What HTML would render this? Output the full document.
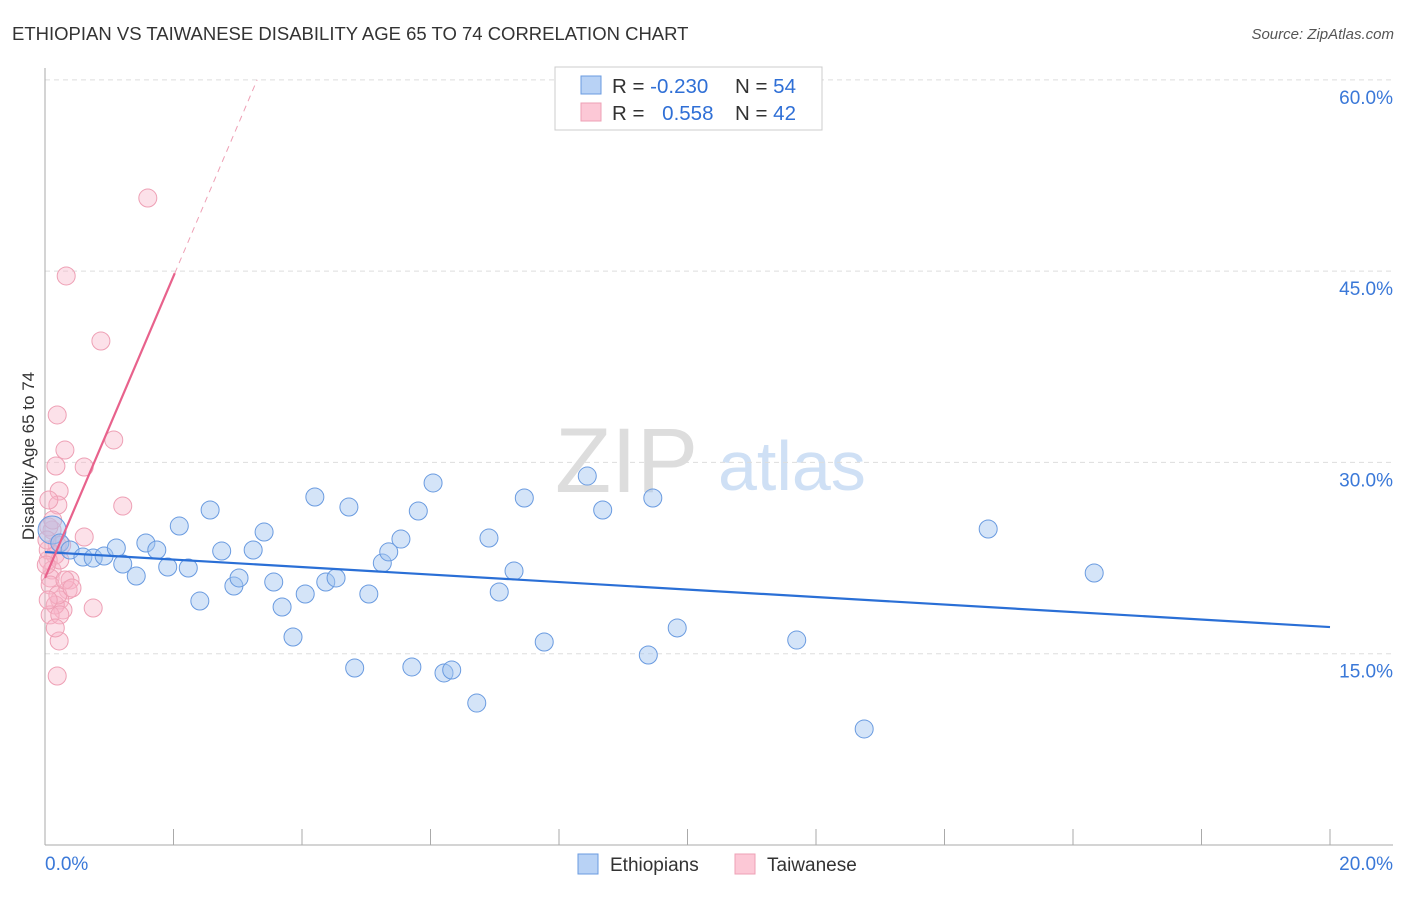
<!DOCTYPE html>
<html><head><meta charset="utf-8"><style>
body{margin:0;background:#fff;font-family:"Liberation Sans",sans-serif}
svg text{font-family:"Liberation Sans",sans-serif}
</style></head><body>
<svg id="c" width="1406" height="892">
<text x="12" y="40" font-size="18.5" fill="#333">ETHIOPIAN VS TAIWANESE DISABILITY AGE 65 TO 74 CORRELATION CHART</text>
<text x="1394" y="39" font-size="15" fill="#555" font-style="italic" text-anchor="end">Source: ZipAtlas.com</text>
<text x="34" y="456" font-size="17" fill="#333" text-anchor="middle" transform="rotate(-90 34 456)">Disability Age 65 to 74</text>
<text x="555" y="492" font-size="92" fill="#ddd" font-family="Liberation Serif">ZIP</text>
<text x="718" y="490" font-size="70" fill="#cfe0f5">atlas</text>
<g id="grid"></g><g id="marks"></g>
<g>
<rect x="555" y="67" width="267" height="63" fill="#fff" stroke="#ccc"/>
<rect x="581" y="76" width="20" height="18" fill="#b8d2f5" stroke="#6a9be0"/>
<rect x="581" y="103" width="20" height="18" fill="#fcc8d6" stroke="#eea0b5"/>
<text x="612" y="93" font-size="20.5" fill="#333">R = <tspan fill="#2f6fd6">-0.230</tspan></text>
<text x="735" y="93" font-size="20.5" fill="#333">N = <tspan fill="#2f6fd6">54</tspan></text>
<text x="612" y="120" font-size="20.5" fill="#333">R = <tspan fill="#2f6fd6" dx="12">0.558</tspan></text>
<text x="735" y="120" font-size="20.5" fill="#333">N = <tspan fill="#2f6fd6">42</tspan></text>
</g>
<g>
<rect x="578" y="854" width="20" height="20" fill="#b8d2f5" stroke="#6a9be0"/>
<text x="610" y="871" font-size="19" fill="#333">Ethiopians</text>
<rect x="735" y="854" width="20" height="20" fill="#fcc8d6" stroke="#eea0b5"/>
<text x="767" y="871" font-size="19" fill="#333">Taiwanese</text>
</g>
</svg>
<script>
const yTicks=[15,30,45,60];
const yTickLabels=["15.0%","30.0%","45.0%","60.0%"];
const xTickLabels=["0.0%","20.0%"];
const ethX=[.11,.23,.39,.59,.75,.92,1.11,1.21,1.42,1.57,1.74,1.91,2.09,2.23,2.41,2.57,2.75,2.94,3.02,3.24,3.41,3.56,3.69,3.86,4.05,4.20,4.37,4.53,4.73,4.82,5.04,5.25,5.35,5.54,5.71,5.81,6.04,6.21,6.33,6.72,6.91,7.07,7.30,7.46,7.77,8.44,8.68,9.39,9.46,9.84,11.70,12.75,14.68,16.33];
const ethY=[24.70,23.68,23.13,22.58,22.50,22.66,23.29,22.03,21.09,23.68,23.13,21.80,25.01,21.72,19.13,26.27,23.05,20.31,20.94,23.13,24.54,20.62,18.66,16.31,19.68,27.29,20.62,20.94,26.50,13.88,19.68,22.11,22.98,23.99,13.96,26.19,28.39,13.49,13.72,11.13,24.07,19.84,21.49,27.21,15.92,28.93,26.27,14.90,27.21,17.02,16.07,9.10,24.78,21.33];
const taiX=[1.60,.33,.87,.19,1.07,.31,.17,.61,.22,1.21,.20,.06,.61,.11,.19,.16,.05,.11,.23,.08,.39,.36,.23,.28,.75,.16,.08,.23,.22,.19,.06,.05,.26,.08,.03,.12,.02,.20,.31,.05,.16,.42];
const taiY=[50.73,44.62,39.52,33.72,31.76,30.97,29.72,29.64,27.76,26.58,26.66,27.05,24.15,24.70,23.52,22.74,22.35,21.56,22.35,20.94,20.78,20.00,19.21,18.43,18.58,18.82,18.04,18.04,16.00,13.25,24.94,23.13,23.52,20.39,23.92,25.48,21.96,19.60,20.78,19.21,17.02,20.15];
const ethLine=[22.97,17.09];
const taiLine=[20.94,11.83];
const NS="http://www.w3.org/2000/svg";
const X=v=>45+v*64.25, Y=v=>845-v*12.753;
function mk(t,a,p){const e=document.createElementNS(NS,t);for(const k in a)e.setAttribute(k,a[k]);p.appendChild(e);return e;}
const g=document.getElementById('grid'),m=document.getElementById('marks');
yTicks.forEach((t,i)=>{
 const l=mk('line',{x1:45,x2:1393,y1:Y(t),y2:Y(t),stroke:'#ddd','stroke-dasharray':'5,4'},g);
 
 
 const tx=mk('text',{x:1393,y:Y(t)+24,'font-size':19,fill:'#3a78d8','text-anchor':'end'},g);
 tx.textContent=yTickLabels[i];
 
 
});
const ax=mk('line',{x1:45,x2:45,y1:68,y2:845,stroke:'#aaa'},g);


const bx=mk('line',{x1:45,x2:1393,y1:845,y2:845,stroke:'#aaa'},g);


for(let i=1;i<=10;i++){const t=mk('line',{x1:X(i*2),x2:X(i*2),y1:829,y2:845,stroke:'#aaa'},g);
 
 }
[[0,'start',45],[20,'end',1393]].forEach((d,i)=>{const t=mk('text',{x:d[2],y:870,'font-size':19,fill:'#3a78d8','text-anchor':d[1]},g);
 t.textContent=xTickLabels[i];
 
 });
taiX.forEach((x,i)=>{const c=mk('circle',{cx:X(x),cy:Y(taiY[i]),r:9,fill:'rgba(248,180,200,0.4)',stroke:'#eea0b5','stroke-width':1},m);
 
 });
ethX.forEach((x,i)=>{const c=mk('circle',{cx:X(x),cy:Y(ethY[i]),r:i==0?14:9,fill:'rgba(160,195,240,0.45)',stroke:'#6a9be0','stroke-width':1},m);
 
 });
const bl=mk('line',{x1:X(0),y1:Y(ethLine[0]),x2:X(20),y2:Y(ethLine[1]),stroke:'#2a6fd6','stroke-width':2.2},m);


const xs=2.02,xe=(60-taiLine[0])/taiLine[1];
const pl=mk('line',{x1:X(0),y1:Y(taiLine[0]),x2:X(xs),y2:Y(taiLine[0]+taiLine[1]*xs),stroke:'#e8628c','stroke-width':2.2},m);


const pd=mk('line',{x1:X(xs),y1:Y(taiLine[0]+taiLine[1]*xs),x2:X(xe),y2:Y(60),stroke:'#eea0b5','stroke-width':1,'stroke-dasharray':'6,5'},m);


</script>
</body></html>
